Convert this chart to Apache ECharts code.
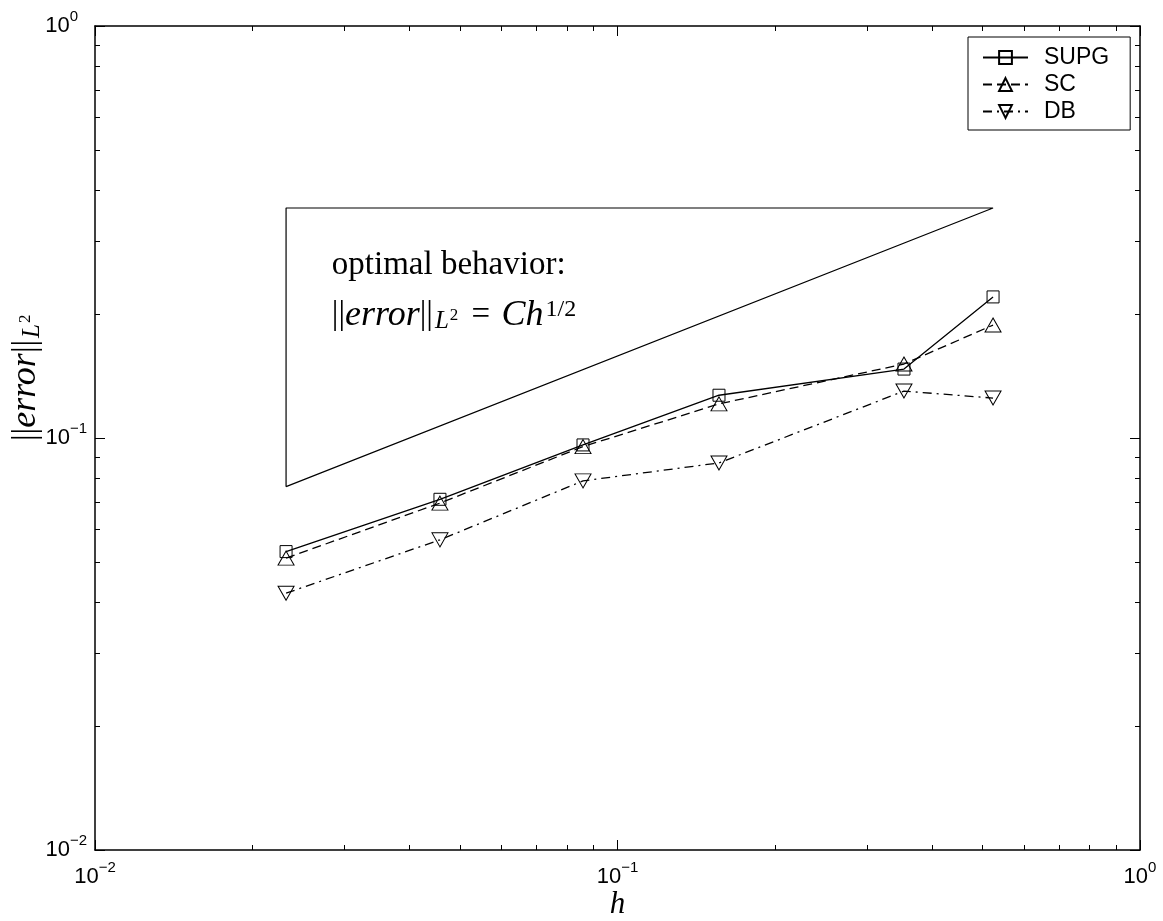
<!DOCTYPE html>
<html><head><meta charset="utf-8">
<script src="https://cdn.jsdelivr.net/npm/echarts@6/dist/echarts.min.js"></script>
<style>html,body{margin:0;padding:0;background:#fff}#c{width:1163px;height:921px}</style>
</head><body><div id="c"></div>
<script>
// ---- data ----
const hValues = [0.02321, 0.04573, 0.0859, 0.1564, 0.3534, 0.5233];
const supgErr = [0.0530, 0.0710, 0.0962, 0.127, 0.147, 0.220];
const scErr   = [0.0511, 0.0695, 0.0953, 0.121, 0.1512, 0.188];
const dbErr   = [0.0420, 0.0566, 0.0787, 0.0870, 0.130, 0.125];
// reference slope triangle (bottom-left -> top-left -> top-right -> bottom-left)
const triH   = [0.02321, 0.02321, 0.5233, 0.02321];
const triErr = [0.0762, 0.3616, 0.3616, 0.0762];
// ticks
const majorTickValues = [0.01, 0.1, 1];
const xTickLabels = ['10{s|\u22122}', '10{s|\u22121}', '10{s|0}'];
const yTickLabels = ['10{s|\u22122}', '10{s|\u22121}', '10{z|0}'];
const minorTickValues = [0.02,0.03,0.04,0.05,0.06,0.07,0.08,0.09,0.2,0.3,0.4,0.5,0.6,0.7,0.8,0.9];
const seriesNames = ['SUPG', 'SC', 'DB'];
const annotationLine1 = 'optimal behavior:';
const annotationAnchor1 = [0.0284, 0.263];
const annotationAnchor2 = [0.0284, 0.1988];

const pairs = (xs, ys) => xs.map((x, i) => [x, ys[i]]);
const makeFmt = labels => v => {
  const i = majorTickValues.findIndex(t => Math.abs(Math.log10(t) - Math.log10(v)) < 1e-6);
  return i >= 0 ? labels[i] : '';
};
const SANS = 'Liberation Sans, Arial, sans-serif';
const SERIF = 'Liberation Serif, Times New Roman, serif';
const lineCol = '#000';
function labelStyle(margin, labels) {
  const s = { fontFamily: SANS, fontSize: 15, lineHeight: 15, verticalAlign: 'top', color: '#000' };
  const z = Object.assign({}, s, { padding: [0, 9, 0, 0] });
  return {
    show: true, formatter: makeFmt(labels), customValues: majorTickValues, margin: margin,
    fontFamily: SANS, fontSize: 22, color: '#000', lineHeight: 34,
    rich: { s: s, z: z }
  };
}
const mathRich = {
  b: { fontFamily: SERIF, fontSize: 33, color: '#000' },
  i: { fontFamily: SERIF, fontSize: 36, fontStyle: 'italic', color: '#000' },
  r: { fontFamily: SERIF, fontSize: 33, color: '#000', padding: [0, 3, 0, 5] },
  sub: { fontFamily: SERIF, fontSize: 25, fontStyle: 'italic', color: '#000', padding: [12, 0, 0, 2] },
  sub2: { fontFamily: SERIF, fontSize: 17, color: '#000', padding: [0, 0, 0, 1] },
  sup: { fontFamily: SERIF, fontSize: 24, color: '#000', padding: [0, 0, 11, 2] }
};
const formulaText = '{b|||}{i|error}{b|||}{sub|L}{sub2|2}{r| = }{i|Ch}{sup|1/2}';
const yNameText = '{b|||}{i|error}{b|||}{sub|L}{sub2|2}';

function ax(pos, major, extra) {
  return Object.assign({
    type: 'log', logBase: 10, min: 0.01, max: 1, position: pos,
    axisLine: { show: major, onZero: false, lineStyle: { color: lineCol, width: 1.5 } },
    axisTick: { show: true, inside: true, length: major ? 10 : 5, customValues: major ? majorTickValues : minorTickValues,
      lineStyle: { color: lineCol, width: 1 } },
    axisLabel: { show: false },
    splitLine: { show: false }, minorTick: { show: false }, minorSplitLine: { show: false }
  }, extra || {});
}
const xAxes = [
  ax('bottom', true, {
    axisLabel: labelStyle(10, xTickLabels),
    name: 'h', nameLocation: 'middle', nameGap: 39, nameMoveOverlap: false,
    nameTextStyle: { fontFamily: SERIF, fontStyle: 'italic', fontSize: 31, color: '#000' }
  }),
  ax('bottom', false), ax('top', true), ax('top', false)
];
const yAxes = [
  ax('left', true, { axisLabel: labelStyle(8, yTickLabels) }),
  ax('left', false), ax('right', true), ax('right', false)
];

const markerStyle = { color: 'rgba(255,255,255,0)', borderColor: '#000', borderWidth: 1 };
const option = {
  animation: false,
  backgroundColor: '#fff',
  grid: { left: 95, top: 26, right: 23, bottom: 71, containLabel: false, outerBoundsMode: 'none' },
  xAxis: xAxes,
  yAxis: yAxes,
  legend: {
    data: seriesNames, orient: 'vertical', left: 968, top: 37,
    padding: [9, 21, 7, 14], itemWidth: 45, itemHeight: 16, itemGap: 4,
    backgroundColor: '#fff', borderColor: '#000', borderWidth: 1, borderRadius: 0,
    selectedMode: false,
    textStyle: { fontFamily: SANS, fontSize: 23, color: '#000', lineHeight: 23, padding: [0, 0, 0, 11] }
  },
  series: [
    { name: 'optimal', type: 'line', data: pairs(triH, triErr), symbol: 'none',
      lineStyle: { color: '#000', width: 1.2 }, itemStyle: { color: '#000' }, silent: true, z: 1 },
    { name: 'SUPG', type: 'line', data: pairs(hValues, supgErr), symbol: 'rect', symbolSize: 12,
      showAllSymbol: true, lineStyle: { color: '#000', width: 1.3, type: 'solid' }, itemStyle: markerStyle,
      emphasis: { disabled: true } },
    { name: 'SC', type: 'line', data: pairs(hValues, scErr), symbol: 'triangle', symbolSize: [16, 14],
      showAllSymbol: true, lineStyle: { color: '#000', width: 1.3, type: [9, 5] }, itemStyle: markerStyle,
      emphasis: { disabled: true } },
    { name: 'DB', type: 'line', data: pairs(hValues, dbErr), symbol: 'triangle', symbolRotate: 180, symbolSize: [16, 14],
      showAllSymbol: true, lineStyle: { color: '#000', width: 1.3, type: [9, 5, 2, 5] }, itemStyle: markerStyle,
      emphasis: { disabled: true } }
  ]
};
const chart = echarts.init(document.getElementById('c'), null, { renderer: 'canvas' });
chart.setOption(option);
const p1 = chart.convertToPixel({ xAxisIndex: 0, yAxisIndex: 0 }, annotationAnchor1);
const p2 = chart.convertToPixel({ xAxisIndex: 0, yAxisIndex: 0 }, annotationAnchor2);
const yMid = chart.convertToPixel({ yAxisIndex: 0 }, 0.1);
chart.setOption({
  graphic: [
    { type: 'text', x: p1[0], y: p1[1], z: 10,
      style: { text: annotationLine1, fontFamily: SERIF, fontSize: 33, fill: '#000', align: 'left', verticalAlign: 'middle' } },
    { type: 'text', x: p2[0], y: p2[1], z: 10,
      style: { text: formulaText, rich: mathRich, fontFamily: SERIF, fontSize: 33, fill: '#000', align: 'left', verticalAlign: 'middle' } },
    { type: 'text', x: 26, y: yMid + 3, rotation: Math.PI / 2, z: 10,
      style: { text: yNameText, rich: mathRich, fontFamily: SERIF, fontSize: 33, fill: '#000', align: 'left', verticalAlign: 'middle' } }
  ]
});
</script>
</body></html>
